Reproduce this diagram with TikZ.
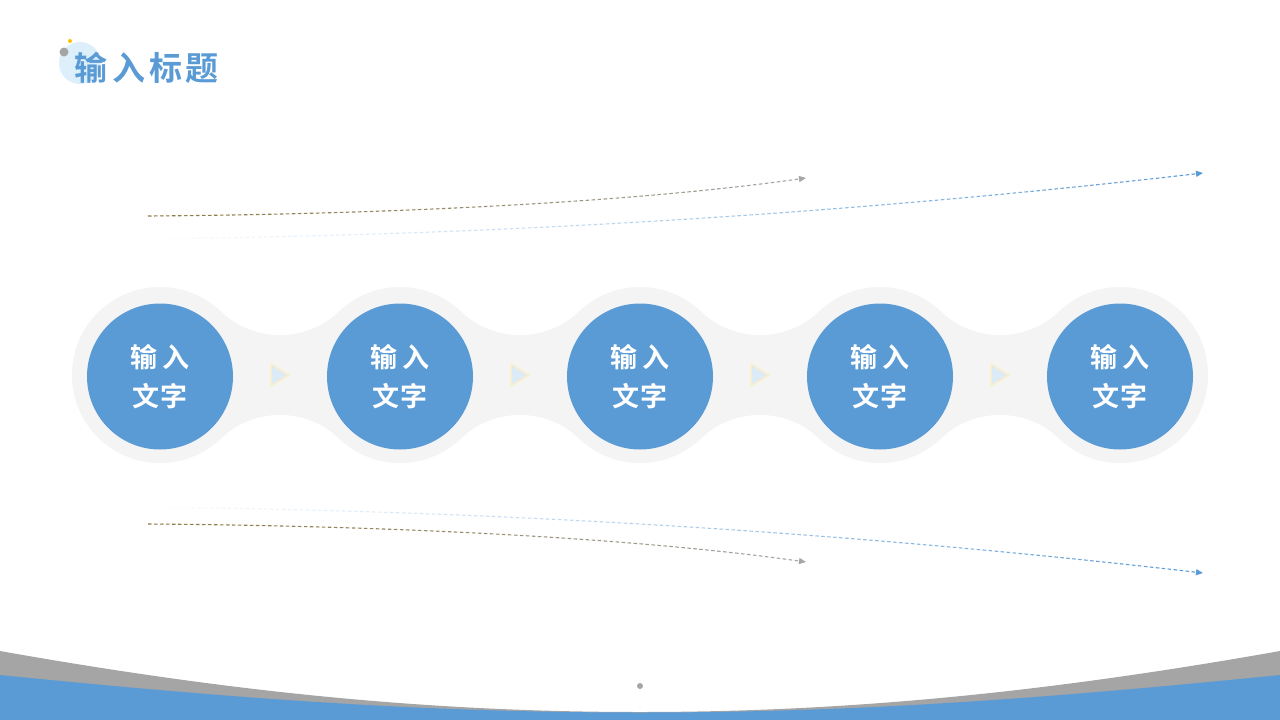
\documentclass[tikz,border=0pt]{standalone}
\usepackage{fontspec}
\newfontfamily\cjk{Noto Sans CJK SC}[BoldFont={Noto Sans CJK SC Bold}]
\usetikzlibrary{arrows.meta}
\definecolor{mainblue}{HTML}{5B9BD5}
\definecolor{chaingray}{HTML}{F4F4F4}
\definecolor{bandgray}{HTML}{A5A5A5}
\definecolor{olivec}{HTML}{8C7A40}
\definecolor{endgray}{HTML}{A6A6A6}
\definecolor{tricol}{HTML}{DDEBF7}
\definecolor{triglow}{HTML}{FBEFC9}
\definecolor{halo}{HTML}{DDEFFB}
\definecolor{goldc}{HTML}{FFC000}
\begin{document}
\begin{tikzpicture}[x=1pt,y=-1pt,
  bluecirc/.style={circle,fill=mainblue,minimum size=146pt,inner sep=0pt,text=white,
    font=\cjk\bfseries\fontsize{27}{39}\selectfont,align=center},
  dline/.style={line width=1.1pt,dash pattern=on 3.5pt off 2.5pt,-{Triangle[length=7pt,width=6pt]}},
  trimark/.style={fill=tricol,draw=triglow,line width=1.5pt,line join=round}
]
\useasboundingbox (0,0) rectangle (1280,720);
\fill[white] (0,0) rectangle (1280,720);

% bottom bands
\fill[bandgray] (0,651) .. controls (220,690) and (420,712) .. (640,712)
  .. controls (860,712) and (1060,690) .. (1280,651) -- (1280,720) -- (0,720) -- cycle;
\fill[mainblue] (0,675) .. controls (250,700) and (430,712.5) .. (640,712.5)
  .. controls (850,712.5) and (1030,700) .. (1280,675) -- (1280,720) -- (0,720) -- cycle;
\fill[bandgray] (640,686) circle (3pt);

% title
\fill[halo] (80,63) circle (21pt);
\fill[bandgray] (64,52) circle (4.5pt);
\fill[goldc] (70,41) circle (2pt);
\node[font=\cjk\bfseries\fontsize{33}{33}\selectfont,text=mainblue,anchor=west,inner sep=0pt]
  (title) at (74,68) {输\hspace{5pt}入\hspace{4pt}标\hspace{3pt}题};

% gray chain
\foreach \m in {280,520,760,1000}{
  \fill[chaingray] (\m-60,311) rectangle (\m+60,439);
  \fill[white] (\m,249) circle (86pt);
  \fill[white] (\m,501) circle (86pt);
}
\foreach \c in {160,400,640,880,1120}{
  \fill[chaingray] (\c,375) circle (88pt);
}
% triangles
\foreach \m [count=\k] in {280,520,760,1000}{
  \path[trimark] (\m-9,364) -- (\m+9,375) -- (\m-9,386) -- cycle;
}

% blue circles
\foreach \c [count=\k] in {160,400,640,880,1120}{
  \node[bluecirc] (c\k) at (\c,376.5) {输\hspace{5pt}入\\文\hspace{1pt}字};
}

% dashed curves
\coordinate (ubs) at (148,216); \coordinate (ube) at (806,178);
\coordinate (uls) at (120,239); \coordinate (ule) at (1203,173);
\coordinate (lbs) at (148,524); \coordinate (lbe) at (806,562);
\coordinate (lls) at (120,507); \coordinate (lle) at (1203,573);

\foreach \i in {0,...,29}{
  \pgfmathsetmacro{\xa}{140+\i*22.2}
  \pgfmathsetmacro{\xb}{\xa+22.5}
  \pgfmathtruncatemacro{\p}{100*\i/29}
  \ifnum\i=29 \def\xb{1280}\fi
  \begin{scope}
    \clip (\xa,150) rectangle (\xb,260);
    \draw[dline,draw=endgray!\p!olivec] (ubs) .. controls (420,214) and (650,200) .. (ube);
  \end{scope}
  \begin{scope}
    \clip (\xa,480) rectangle (\xb,600);
    \draw[dline,draw=endgray!\p!olivec] (lbs) .. controls (420,526) and (650,540) .. (lbe);
  \end{scope}
}
\foreach \i in {0,...,39}{
  \pgfmathsetmacro{\xa}{110+\i*27.3}
  \pgfmathsetmacro{\xb}{\xa+27.6}
  \pgfmathtruncatemacro{\p}{100*(\i/39)^1.1}
  \ifnum\i=39 \def\xb{1280}\fi
  \begin{scope}
    \clip (\xa,150) rectangle (\xb,260);
    \draw[dline,draw=mainblue!\p!white] (uls) .. controls (482,236.5) and (843,214.5) .. (ule);
  \end{scope}
  \begin{scope}
    \clip (\xa,480) rectangle (\xb,600);
    \draw[dline,draw=mainblue!\p!white] (lls) .. controls (482,509.5) and (843,531.5) .. (lle);
  \end{scope}
}
\end{tikzpicture}
\end{document}
